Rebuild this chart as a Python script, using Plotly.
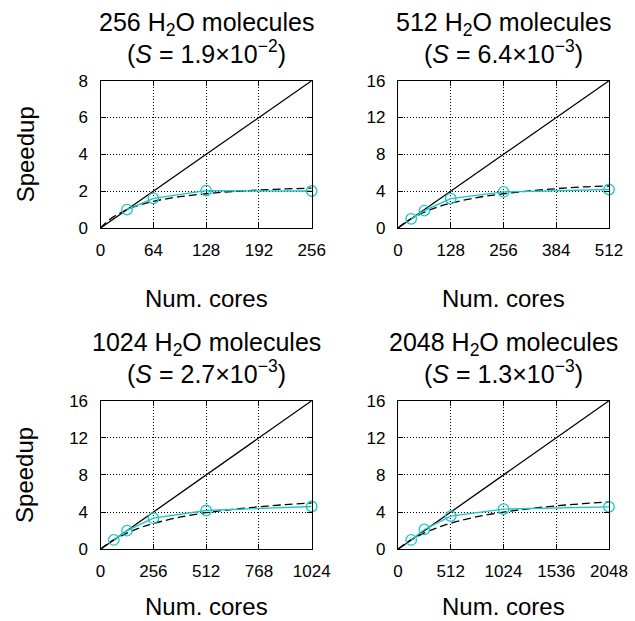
import plotly.graph_objects as go

W, H = 635, 621

# ---------------- data ----------------
titles_top = ["256 H<sub>2</sub>O molecules", "512 H<sub>2</sub>O molecules",
              "1024 H<sub>2</sub>O molecules", "2048 H<sub>2</sub>O molecules"]
serial_fraction_labels = ["1.9×10<sup>−2</sup>", "6.4×10<sup>−3</sup>",
                          "2.7×10<sup>−3</sup>", "1.3×10<sup>−3</sup>"]

# measured speedups (cyan circles)
cores_256 = [32, 64, 128, 256]
speedup_256 = [1.0, 1.61, 2.03, 2.01]
cores_512 = [32, 64, 128, 256, 512]
speedup_512 = [1.0, 1.89, 3.2, 3.92, 4.18]
cores_1024 = [64, 128, 256, 512, 1024]
speedup_1024 = [1.0, 2.0, 3.34, 4.17, 4.6]
cores_2048 = [128, 256, 512, 1024, 2048]
speedup_2048 = [1.0, 2.13, 3.57, 4.32, 4.57]

# ideal speedup (solid black)
ideal_x_256 = [0, 256]
ideal_y_256 = [0, 8]
ideal_x_512 = [0, 512]
ideal_y_512 = [0, 16]
ideal_x_1024 = [0, 1024]
ideal_y_1024 = [0, 16]
ideal_x_2048 = [0, 2048]
ideal_y_2048 = [0, 16]

# fitted curve (dashed black)
fit_x_256 = [0, 4, 8, 16, 32, 48, 64, 96, 128, 160, 192, 224, 256]
fit_y_256 = [0, 0.19, 0.35, 0.62, 1.0, 1.26, 1.45, 1.70, 1.86, 1.98, 2.06, 2.12, 2.17]
fit_x_512 = [0, 8, 16, 32, 64, 96, 128, 192, 256, 320, 384, 448, 512]
fit_y_512 = [0, 0.29, 0.55, 1.0, 1.73, 2.28, 2.70, 3.31, 3.72, 4.03, 4.27, 4.46, 4.56]
fit_x_1024 = [0, 16, 32, 64, 128, 192, 256, 384, 512, 640, 768, 896, 1024]
fit_y_1024 = [0, 0.28, 0.54, 1.0, 1.74, 2.32, 2.77, 3.45, 3.93, 4.29, 4.57, 4.80, 4.98]
fit_x_2048 = [0, 32, 64, 128, 256, 384, 512, 768, 1024, 1280, 1536, 1792, 2048]
fit_y_2048 = [0, 0.28, 0.54, 1.0, 1.75, 2.33, 2.80, 3.50, 4.00, 4.38, 4.67, 4.90, 5.09]

x_ticks_256 = [0, 64, 128, 192, 256]
x_ticks_512 = [0, 128, 256, 384, 512]
x_ticks_1024 = [0, 256, 512, 768, 1024]
x_ticks_2048 = [0, 512, 1024, 1536, 2048]
y_ticks_8 = [0, 2, 4, 6, 8]
y_ticks_16 = [0, 4, 8, 12, 16]

# ---------------- layout helpers ----------------
FONT = "Liberation Sans, Arial, sans-serif"
CYAN = "#19C6C6"

# panel pixel boxes: (left, right, top, bottom)
boxes = [(100.6, 311.7, 80.7, 228.0), (398.0, 609.0, 80.7, 228.0),
         (100.6, 311.7, 400.7, 549.2), (398.0, 609.0, 400.7, 549.2)]
xtitle_offsets = [70, 70, 57, 57]

panels = [
    (cores_256, speedup_256, ideal_x_256, ideal_y_256, fit_x_256, fit_y_256, x_ticks_256, y_ticks_8),
    (cores_512, speedup_512, ideal_x_512, ideal_y_512, fit_x_512, fit_y_512, x_ticks_512, y_ticks_16),
    (cores_1024, speedup_1024, ideal_x_1024, ideal_y_1024, fit_x_1024, fit_y_1024, x_ticks_1024, y_ticks_16),
    (cores_2048, speedup_2048, ideal_x_2048, ideal_y_2048, fit_x_2048, fit_y_2048, x_ticks_2048, y_ticks_16),
]

def px_x(p):
    return p / W

def px_y(p):
    return 1 - p / H

fig = go.Figure()
annotations = []

for i, (cx, cy, ix, iy, fx, fy, xt, yt) in enumerate(panels):
    n = "" if i == 0 else str(i + 1)
    xa, ya = "x" + n, "y" + n
    l, r, t, b = boxes[i]
    fig.add_trace(go.Scatter(x=ix, y=iy, xaxis=xa, yaxis=ya, mode="lines",
                             line=dict(color="black", width=1.3), showlegend=False,
                             hoverinfo="skip"))
    fig.add_trace(go.Scatter(x=fx, y=fy, xaxis=xa, yaxis=ya, mode="lines",
                             line=dict(color="black", width=1.3, dash="8px,4px", shape="spline"),
                             showlegend=False, hoverinfo="skip"))
    fig.add_trace(go.Scatter(x=cx, y=cy, xaxis=xa, yaxis=ya, mode="lines+markers",
                             line=dict(color=CYAN, width=1.3),
                             marker=dict(symbol="circle-open", size=10.5, color=CYAN,
                                         line=dict(width=1.3, color=CYAN)),
                             cliponaxis=False, showlegend=False))
    axis_common = dict(showline=True, linecolor="black", linewidth=1.3, mirror="ticks",
                       ticks="inside", ticklen=5, tickwidth=1.3, tickcolor="black",
                       showgrid=True, gridcolor="black", gridwidth=1, griddash="1px,2px",
                       zeroline=False, automargin=False,
                       tickfont=dict(family=FONT, size=17, color="black"))
    fig.update_layout(**{
        "xaxis" + n: dict(domain=[px_x(l), px_x(r)], range=[xt[0], xt[-1]], tickvals=xt,
                          anchor=ya, ticklabelstandoff=6, **axis_common),
        "yaxis" + n: dict(domain=[px_y(b), px_y(t)], range=[yt[0], yt[-1]], tickvals=yt,
                          anchor=xa, ticklabelstandoff=8, **axis_common),
    })
    cxm = (l + r) / 2
    annotations.append(dict(text=titles_top[i], x=px_x(cxm), y=px_y(t - 57),
                            xref="paper", yref="paper", showarrow=False,
                            xanchor="center", yanchor="middle",
                            font=dict(family=FONT, size=25, color="black")))
    annotations.append(dict(text="(<i>S</i> = " + serial_fraction_labels[i] + ")",
                            x=px_x(cxm), y=px_y(t - 29),
                            xref="paper", yref="paper", showarrow=False,
                            xanchor="center", yanchor="middle",
                            font=dict(family=FONT, size=25, color="black")))
    annotations.append(dict(text="Num. cores", x=px_x(cxm), y=px_y(b + xtitle_offsets[i]),
                            xref="paper", yref="paper", showarrow=False,
                            xanchor="center", yanchor="middle",
                            font=dict(family=FONT, size=24, color="black")))
    if i % 2 == 0:
        annotations.append(dict(text="Speedup", x=px_x(25), y=px_y((t + b) / 2),
                                xref="paper", yref="paper", showarrow=False, textangle=-90,
                                xanchor="center", yanchor="middle",
                                font=dict(family=FONT, size=24, color="black")))

fig.update_layout(template="none", width=W, height=H, margin=dict(l=0, r=0, t=0, b=0),
                  paper_bgcolor="white", plot_bgcolor="white",
                  annotations=annotations, showlegend=False)

fig.write_html("out.html", config={"displayModeBar": False},
               post_script="document.body.style.margin='0px';"
                           "document.body.style.overflow='hidden';")
